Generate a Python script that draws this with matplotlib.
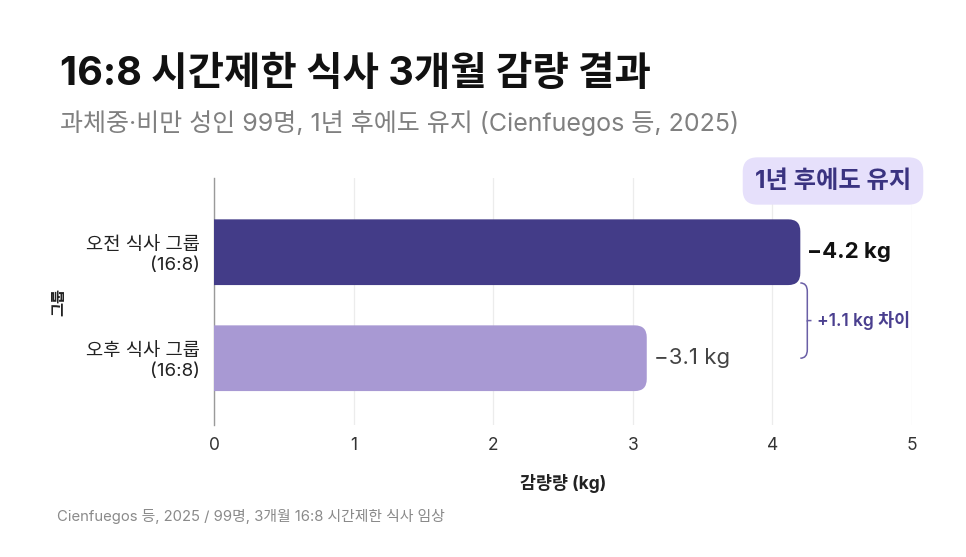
import numpy as np
import matplotlib.pyplot as plt
from matplotlib.patches import FancyBboxPatch, PathPatch
from matplotlib.path import Path

plt.rcParams['font.family'] = ['Inter', 'Noto Sans CJK KR', 'DejaVu Sans']
plt.rcParams['axes.unicode_minus'] = True

groups = ['오후 식사 그룹\n(16:8)', '오전 식사 그룹\n(16:8)']
loss = [3.1, 4.2]
value_labels = ['−3.1 kg', '−4.2 kg']
bar_colors = ['#a899d3', '#433c88']
xticks = [0, 1, 2, 3, 4, 5]

title = '16:8 시간제한 식사 3개월 감량 결과'
subtitle = '과체중·비만 성인 99명, 1년 후에도 유지 (Cienfuegos 등, 2025)'
footer = 'Cienfuegos 등, 2025 / 99명, 3개월 16:8 시간제한 식사 임상'
badge = '1년 후에도 유지'
diff_label = '+1.1 kg 차이'

W, H = 966, 557
fig = plt.figure(figsize=(W / 100, H / 100), dpi=100)
ax = fig.add_axes([214 / W, 1 - 425 / H, (912 - 214) / W, (425 - 178) / H])

ypos = np.arange(len(groups))
bh = 0.62
bars = ax.barh(ypos, loss, height=bh, color=bar_colors)

# swap the plain bars for rounded ones (left end hidden under the spine)
px_x = (912 - 214) / 5
px_y = 106.0
for b, c in zip(bars, bar_colors):
    x, y, w, h = b.get_x(), b.get_y(), b.get_width(), b.get_height()
    b.set_visible(False)
    r = 12 / px_x
    p = FancyBboxPatch((x - 0.3, y), w + 0.3, h,
                       boxstyle=f'round,pad=0,rounding_size={r}',
                       mutation_aspect=px_x / px_y,
                       facecolor=c, edgecolor='none', zorder=3)
    ax.add_patch(p)

ax.set_xlim(0, 5)
ax.set_ylim(-0.63, 1.70)
ax.set_xticks(xticks)
ax.set_xticklabels([str(t) for t in xticks], fontsize=12.5, color='#333333')
ax.set_yticks(ypos)
ax.set_yticklabels(groups, fontsize=13.5, color='#222222', linespacing=1.25)
ax.tick_params(length=0, pad=10)
ax.tick_params(axis='x', pad=9)
for s in ['top', 'right', 'bottom']:
    ax.spines[s].set_visible(False)
ax.spines['left'].set_color('#9a9a9a')
ax.spines['left'].set_linewidth(1.0)
ax.grid(axis='x', color='#ececec', linewidth=0.9, zorder=0)
ax.set_axisbelow(True)

ax.set_xlabel('감량량 (kg)', fontsize=12.5, fontweight='bold', color='#222222', labelpad=14)
ax.set_ylabel('그룹', fontsize=11, fontweight='bold', color='#222222', labelpad=14)

# value labels
ax.text(loss[1] + 0.05, ypos[1], value_labels[1], fontsize=16, fontweight='bold',
        color='#111111', va='center', ha='left')
ax.text(loss[0] + 0.05, ypos[0], value_labels[0], fontsize=16,
        color='#444444', va='center', ha='left')

# curly brace between the two bar ends
bx = loss[1] - 0.0
y_top = ypos[1] - bh / 2 + 0.02
y_bot = ypos[0]
ym = (y_top + y_bot) / 2
dx = 0.05
verts = [(bx, y_top), (bx + dx, y_top), (bx + dx, y_top - 0.08),
         (bx + dx, ym + 0.06), (bx + dx, ym + 0.02), (bx + dx, ym), (bx + 1.6 * dx, ym),
         (bx + dx, ym), (bx + dx, ym - 0.02), (bx + dx, ym - 0.06),
         (bx + dx, y_bot + 0.08), (bx + dx, y_bot), (bx, y_bot)]
codes = [Path.MOVETO, Path.CURVE3, Path.CURVE3,
         Path.LINETO, Path.CURVE3, Path.CURVE3, Path.LINETO,
         Path.MOVETO, Path.CURVE3, Path.CURVE3,
         Path.LINETO, Path.CURVE3, Path.CURVE3]
ax.add_patch(PathPatch(Path(verts, codes), fill=False, edgecolor='#6a5fa6',
                       linewidth=1.1, clip_on=False, zorder=4))
ax.text(bx + 1.6 * dx + 0.04, ym, diff_label, fontsize=12.5, color='#4a3f8f',
        va='center', ha='left', fontweight='semibold')

# badge
fig.text(833 / W, 1 - 181 / H, badge, fontsize=17.5, fontweight='bold', color='#3a3380',
         ha='center', va='center',
         bbox=dict(boxstyle='round,pad=0.5,rounding_size=0.6',
                   facecolor='#e6e0fb', edgecolor='none'))

fig.text(60 / W, 1 - 74 / H, title, fontsize=28.5, fontweight='bold', color='#111111',
         ha='left', va='center')
fig.text(60 / W, 1 - 123 / H, subtitle, fontsize=18, color='#808080',
         ha='left', va='center')
fig.text(57 / W, 1 - 517 / H, footer, fontsize=10.7, color='#8a8a8a',
         ha='left', va='center')

fig.savefig('out.png', dpi=100, facecolor='white')
